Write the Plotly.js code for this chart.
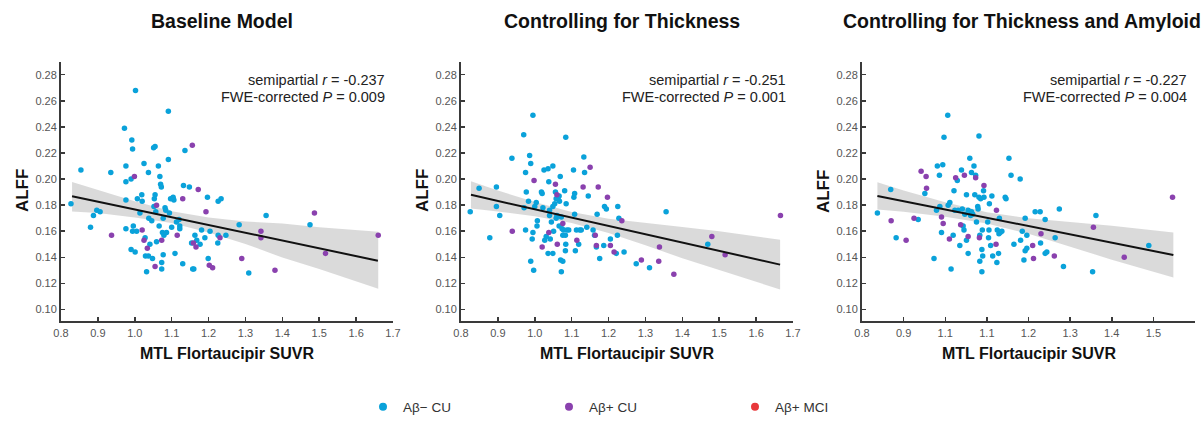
<!DOCTYPE html>
<html>
<head>
<meta charset="utf-8">
<script src="https://cdn.plot.ly/plotly-3.0.1.min.js"></script>
<style>html,body{margin:0;padding:0;background:#fff;}#chart{width:1202px;height:423px;}</style>
</head>
<body>
<div id="chart"></div>
<script>
// ---------- Data ----------
const groupNames = ["Aβ− CU", "Aβ+ CU", "Aβ+ MCI"];
const panelTitles = ["Baseline Model", "Controlling for Thickness", "Controlling for Thickness and Amyloid"];
const statR = ["-0.237", "-0.251", "-0.227"];
const statP = ["0.009", "0.001", "0.004"];
const yTickVals = [0.10, 0.12, 0.14, 0.16, 0.18, 0.20, 0.22, 0.24, 0.26, 0.28];
const xTickVals12 = [0.8, 0.9, 1.0, 1.1, 1.2, 1.3, 1.4, 1.5, 1.6, 1.7];
const xTickText12 = ["0.8", "0.9", "1.0", "1.1", "1.2", "1.3", "1.4", "1.5", "1.6", "1.7"];
const xTickVals3 = [0.8, 0.9, 1.0, 1.1, 1.2, 1.3, 1.4, 1.5, 1.6];
const xTickText3 = ["0.8", "0.9", "1.1", "1.1", "1.2", "1.3", "1.4", "1.5", "1.6"];

// Panel 1 — Baseline Model
const p1BlueX = [0.827,0.854,0.880,0.888,0.897,0.906,0.935,0.972,0.976,0.976,0.976,0.976,0.990,0.992,0.994,0.990,1.001,1.002,0.996,0.994,1.005,1.007,1.014,1.019,1.020,1.025,1.028,1.029,1.032,1.037,1.037,1.038,1.041,1.046,1.048,1.051,1.055,1.052,1.053,1.055,1.057,1.059,1.064,1.066,1.068,1.070,1.072,1.073,1.073,1.075,1.077,1.077,1.079,1.082,1.084,1.086,1.091,1.091,1.094,1.097,1.100,1.104,1.106,1.109,1.113,1.120,1.122,1.122,1.130,1.132,1.136,1.148,1.154,1.157,1.160,1.163,1.168,1.177,1.181,1.190,1.197,1.199,1.204,1.225,1.226,1.226,1.234,1.247,1.283,1.309,1.356,1.475];
const p1BlueY = [0.181,0.207,0.163,0.172,0.176,0.175,0.205,0.239,0.210,0.198,0.184,0.162,0.200,0.230,0.223,0.146,0.144,0.268,0.164,0.160,0.160,0.185,0.174,0.188,0.183,0.212,0.155,0.141,0.129,0.205,0.141,0.170,0.150,0.168,0.139,0.224,0.225,0.179,0.185,0.188,0.175,0.152,0.210,0.164,0.202,0.196,0.194,0.136,0.131,0.159,0.142,0.170,0.157,0.178,0.176,0.159,0.252,0.215,0.174,0.185,0.163,0.186,0.184,0.143,0.167,0.169,0.164,0.162,0.135,0.195,0.222,0.194,0.151,0.131,0.131,0.157,0.153,0.150,0.161,0.155,0.186,0.139,0.160,0.151,0.157,0.183,0.185,0.157,0.165,0.128,0.172,0.165];
const p1PurpleX = [0.937,0.999,1.020,1.025,1.034,1.055,1.059,1.073,1.115,1.130,1.156,1.159,1.166,1.172,1.193,1.202,1.211,1.231,1.290,1.342,1.342,1.380,1.487,1.517,1.660];
const p1PurpleY = [0.157,0.202,0.161,0.153,0.147,0.133,0.180,0.153,0.157,0.185,0.226,0.151,0.148,0.192,0.175,0.134,0.132,0.155,0.139,0.160,0.155,0.130,0.174,0.143,0.157];
const p1LineX = [0.830, 1.659];
const p1LineY = [0.1869, 0.1374];
const p1BandX = [0.83, 0.9, 1.0, 1.1, 1.2, 1.3, 1.4, 1.5, 1.66];
const p1BandUpper = [0.1978, 0.1915, 0.1830, 0.1753, 0.1705, 0.1675, 0.1660, 0.1630, 0.1596];
const p1BandLower = [0.1752, 0.1740, 0.1706, 0.1663, 0.1591, 0.1503, 0.1398, 0.1310, 0.1159];

// Panel 2 — Controlling for Thickness
const p2BlueX = [0.825,0.849,0.878,0.896,0.896,0.905,0.938,0.970,0.971,0.975,0.975,0.977,0.983,0.986,0.989,0.989,0.993,0.995,0.997,0.995,1.000,1.004,1.006,1.007,1.018,1.020,1.022,1.025,1.027,1.031,1.036,1.036,1.038,1.040,1.040,1.042,1.045,1.049,1.049,1.049,1.051,1.054,1.056,1.058,1.058,1.060,1.063,1.066,1.066,1.067,1.069,1.070,1.072,1.072,1.074,1.076,1.076,1.078,1.083,1.081,1.083,1.084,1.084,1.085,1.087,1.092,1.105,1.106,1.108,1.108,1.110,1.113,1.119,1.122,1.126,1.133,1.135,1.141,1.145,1.158,1.162,1.167,1.169,1.176,1.187,1.189,1.194,1.205,1.221,1.224,1.225,1.228,1.242,1.275,1.311,1.356,1.469];
const p2BlueY = [0.175,0.193,0.155,0.194,0.179,0.172,0.216,0.234,0.178,0.205,0.161,0.190,0.183,0.218,0.212,0.137,0.154,0.249,0.130,0.159,0.179,0.182,0.164,0.168,0.190,0.189,0.178,0.207,0.153,0.156,0.208,0.143,0.198,0.172,0.176,0.154,0.167,0.143,0.210,0.179,0.160,0.181,0.190,0.185,0.170,0.172,0.185,0.164,0.187,0.183,0.202,0.138,0.129,0.171,0.162,0.137,0.157,0.161,0.157,0.191,0.145,0.232,0.150,0.181,0.161,0.161,0.207,0.186,0.173,0.189,0.145,0.161,0.150,0.161,0.161,0.217,0.205,0.163,0.187,0.161,0.157,0.148,0.173,0.139,0.149,0.179,0.177,0.154,0.143,0.157,0.179,0.170,0.144,0.135,0.132,0.175,0.150];
const p2PurpleX = [0.939,0.998,1.020,1.038,1.056,1.060,1.061,1.076,1.114,1.131,1.150,1.164,1.167,1.172,1.197,1.205,1.215,1.236,1.289,1.336,1.338,1.377,1.480,1.516,1.666];
const p2PurpleY = [0.160,0.199,0.148,0.159,0.196,0.188,0.150,0.166,0.153,0.194,0.209,0.157,0.149,0.194,0.186,0.149,0.144,0.168,0.138,0.137,0.148,0.127,0.156,0.142,0.172];
const p2LineX = [0.827, 1.665];
const p2LineY = [0.1879, 0.1344];
const p2BandX = [0.827, 0.9, 1.0, 1.1, 1.2, 1.3, 1.4, 1.5, 1.665];
const p2BandUpper = [0.1983, 0.1912, 0.1824, 0.1747, 0.1696, 0.1662, 0.1633, 0.1600, 0.1534];
const p2BandLower = [0.1775, 0.1752, 0.1714, 0.1663, 0.1586, 0.1492, 0.1393, 0.1300, 0.1154];

// Panel 3 — Controlling for Thickness and Amyloid
const p3BlueX = [0.837,0.869,0.882,0.935,0.951,0.973,0.979,0.981,0.986,0.987,0.991,0.994,0.997,1.006,1.007,1.011,1.014,1.019,1.021,1.023,1.029,1.031,1.035,1.039,1.041,1.043,1.045,1.047,1.051,1.051,1.055,1.055,1.059,1.061,1.063,1.063,1.066,1.069,1.071,1.073,1.075,1.078,1.081,1.079,1.081,1.083,1.083,1.085,1.088,1.088,1.089,1.090,1.092,1.093,1.102,1.104,1.105,1.106,1.109,1.112,1.114,1.124,1.125,1.128,1.129,1.130,1.132,1.136,1.144,1.146,1.153,1.158,1.165,1.180,1.181,1.185,1.189,1.192,1.192,1.196,1.196,1.216,1.228,1.229,1.240,1.240,1.244,1.264,1.274,1.284,1.354,1.362,1.489];
const p3BlueY = [0.174,0.192,0.155,0.169,0.189,0.139,0.176,0.210,0.203,0.179,0.159,0.211,0.232,0.249,0.180,0.182,0.131,0.157,0.191,0.176,0.199,0.176,0.149,0.207,0.177,0.164,0.161,0.173,0.188,0.153,0.143,0.176,0.216,0.172,0.205,0.175,0.173,0.210,0.188,0.203,0.167,0.179,0.233,0.177,0.186,0.137,0.157,0.185,0.146,0.129,0.161,0.141,0.191,0.186,0.167,0.155,0.161,0.181,0.149,0.187,0.141,0.136,0.161,0.143,0.158,0.170,0.159,0.160,0.186,0.185,0.216,0.203,0.150,0.200,0.153,0.160,0.138,0.170,0.145,0.147,0.157,0.175,0.175,0.151,0.169,0.143,0.144,0.155,0.177,0.133,0.129,0.172,0.149];
const p3PurpleX = [0.870,0.906,0.925,0.942,0.954,0.955,0.991,0.995,1.010,1.025,1.037,1.046,1.055,1.073,1.082,1.093,1.123,1.122,1.210,1.212,1.230,1.262,1.356,1.430,1.546];
const p3PurpleY = [0.168,0.153,0.170,0.206,0.202,0.193,0.171,0.166,0.154,0.201,0.165,0.203,0.156,0.201,0.155,0.195,0.176,0.150,0.149,0.139,0.158,0.141,0.163,0.140,0.186];
const p3LineX = [0.837, 1.548];
const p3LineY = [0.1871, 0.1418];
const p3BandX = [0.837, 0.9, 1.0, 1.1, 1.2, 1.3, 1.4, 1.548];
const p3BandUpper = [0.1976, 0.1913, 0.1822, 0.1746, 0.1700, 0.1671, 0.1642, 0.1590];
const p3BandLower = [0.1766, 0.1749, 0.1712, 0.1660, 0.1580, 0.1481, 0.1382, 0.1246];

// ---------- Styling ----------
const W = 1202, H = 423;
const colors = ["#0AA2DA", "#8A41AE", "#E8383B"];
const FONT = "'Liberation Sans', Arial, Helvetica, sans-serif";
const axisColor = "#3a3a3a";
const tickColor = "#555555";
const xDomPx = [[61, 393], [461, 793], [862, 1195]];
const yDomPx = [62, 323];

const panels = [
  {bx: p1BlueX, by: p1BlueY, px: p1PurpleX, py: p1PurpleY, lx: p1LineX, ly: p1LineY, cx: p1BandX, cu: p1BandUpper, cl: p1BandLower, xr: [0.8, 1.7], tv: xTickVals12, tt: xTickText12},
  {bx: p2BlueX, by: p2BlueY, px: p2PurpleX, py: p2PurpleY, lx: p2LineX, ly: p2LineY, cx: p2BandX, cu: p2BandUpper, cl: p2BandLower, xr: [0.8, 1.7], tv: xTickVals12, tt: xTickText12},
  {bx: p3BlueX, by: p3BlueY, px: p3PurpleX, py: p3PurpleY, lx: p3LineX, ly: p3LineY, cx: p3BandX, cu: p3BandUpper, cl: p3BandLower, xr: [0.8, 1.6], tv: xTickVals3, tt: xTickText3}
];

const traces = [];
const layout = {
  width: W, height: H,
  margin: {l: 0, r: 0, t: 0, b: 0},
  paper_bgcolor: "#ffffff", plot_bgcolor: "rgba(0,0,0,0)",
  font: {family: FONT, color: "#222"},
  showlegend: true,
  legend: {
    orientation: "h", x: 363 / W, y: 1 - 409 / H, xanchor: "left", yanchor: "middle",
    entrywidth: 141, entrywidthmode: "pixels",
    font: {family: FONT, size: 13.5, color: "#333"},
    bgcolor: "rgba(0,0,0,0)", itemclick: false, itemdoubleclick: false
  },
  annotations: []
};

panels.forEach((p, i) => {
  const k = i === 0 ? "" : String(i + 1);
  const xa = "x" + k, ya = "y" + k;
  traces.push({
    x: p.cx.concat(p.cx.slice().reverse()),
    y: p.cu.concat(p.cl.slice().reverse()),
    xaxis: xa, yaxis: ya, type: "scatter", mode: "lines",
    fill: "toself", fillcolor: "rgba(205,205,205,0.75)", line: {width: 0},
    hoverinfo: "skip", showlegend: false
  });
  traces.push({x: p.bx, y: p.by, xaxis: xa, yaxis: ya, type: "scatter", mode: "markers",
    marker: {color: colors[0], size: 5.5}, showlegend: false, name: groupNames[0]});
  traces.push({x: p.px, y: p.py, xaxis: xa, yaxis: ya, type: "scatter", mode: "markers",
    marker: {color: colors[1], size: 5.5}, showlegend: false, name: groupNames[1]});
  traces.push({x: p.lx, y: p.ly, xaxis: xa, yaxis: ya, type: "scatter", mode: "lines",
    line: {color: "#111", width: 2}, showlegend: false, hoverinfo: "skip"});

  layout["xaxis" + k] = {
    domain: [xDomPx[i][0] / W, xDomPx[i][1] / W], anchor: ya,
    range: p.xr, showgrid: false, zeroline: false,
    showline: true, linecolor: axisColor, linewidth: 2,
    ticks: "inside", ticklen: 4, tickwidth: 1.5, tickcolor: axisColor,
    tickvals: p.tv, ticktext: p.tt,
    tickfont: {family: FONT, size: 11, color: tickColor},
    fixedrange: true
  };
  layout["yaxis" + k] = {
    domain: [1 - yDomPx[1] / H, 1 - yDomPx[0] / H], anchor: xa,
    range: [0.0908, 0.29], showgrid: false, zeroline: false,
    showline: true, linecolor: axisColor, linewidth: 2,
    ticks: "inside", ticklen: 4, tickwidth: 1.5, tickcolor: axisColor,
    tickvals: yTickVals, tickformat: ".2f",
    tickfont: {family: FONT, size: 11, color: tickColor},
    fixedrange: true
  };

  const cx = (xDomPx[i][0] + xDomPx[i][1]) / 2;
  const titleCx = [222, 622, 1022][i];
  layout.annotations.push({
    text: "<b>" + panelTitles[i] + "</b>", xref: "paper", yref: "paper",
    x: titleCx / W, y: 1 - 21 / H, xanchor: "center", yanchor: "middle", showarrow: false,
    font: {family: FONT, size: 19.5, color: "#111"}
  });
  layout.annotations.push({
    text: "<b>MTL Flortaucipir SUVR</b>", xref: "paper", yref: "paper",
    x: cx / W, y: 1 - 355 / H, xanchor: "center", yanchor: "middle", showarrow: false,
    font: {family: FONT, size: 16, color: "#111"}
  });
  layout.annotations.push({
    text: "<b>ALFF</b>", xref: "paper", yref: "paper", textangle: -90,
    x: (xDomPx[i][0] - 39) / W, y: 1 - 192 / H, xanchor: "center", yanchor: "middle", showarrow: false,
    font: {family: FONT, size: 17, color: "#111"}
  });
  const rx = [387, 788, 1189][i];
  layout.annotations.push({
    text: "semipartial <i>r</i> = " + statR[i], xref: "paper", yref: "paper",
    x: rx / W, y: 1 - 80 / H, xanchor: "right", yanchor: "middle", showarrow: false,
    font: {family: FONT, size: 14.5, color: "#222"}
  });
  layout.annotations.push({
    text: "FWE-corrected <i>P</i> = " + statP[i], xref: "paper", yref: "paper",
    x: rx / W, y: 1 - 97 / H, xanchor: "right", yanchor: "middle", showarrow: false,
    font: {family: FONT, size: 14.5, color: "#222"}
  });
});

// legend-only entries
groupNames.forEach((g, j) => {
  traces.push({x: [null], y: [null], type: "scatter", mode: "markers", name: g,
    marker: {color: colors[j], size: 8}, showlegend: true, xaxis: "x", yaxis: "y"});
});

Plotly.newPlot("chart", traces, layout, {displayModeBar: false, staticPlot: true});
</script>
</body>
</html>
